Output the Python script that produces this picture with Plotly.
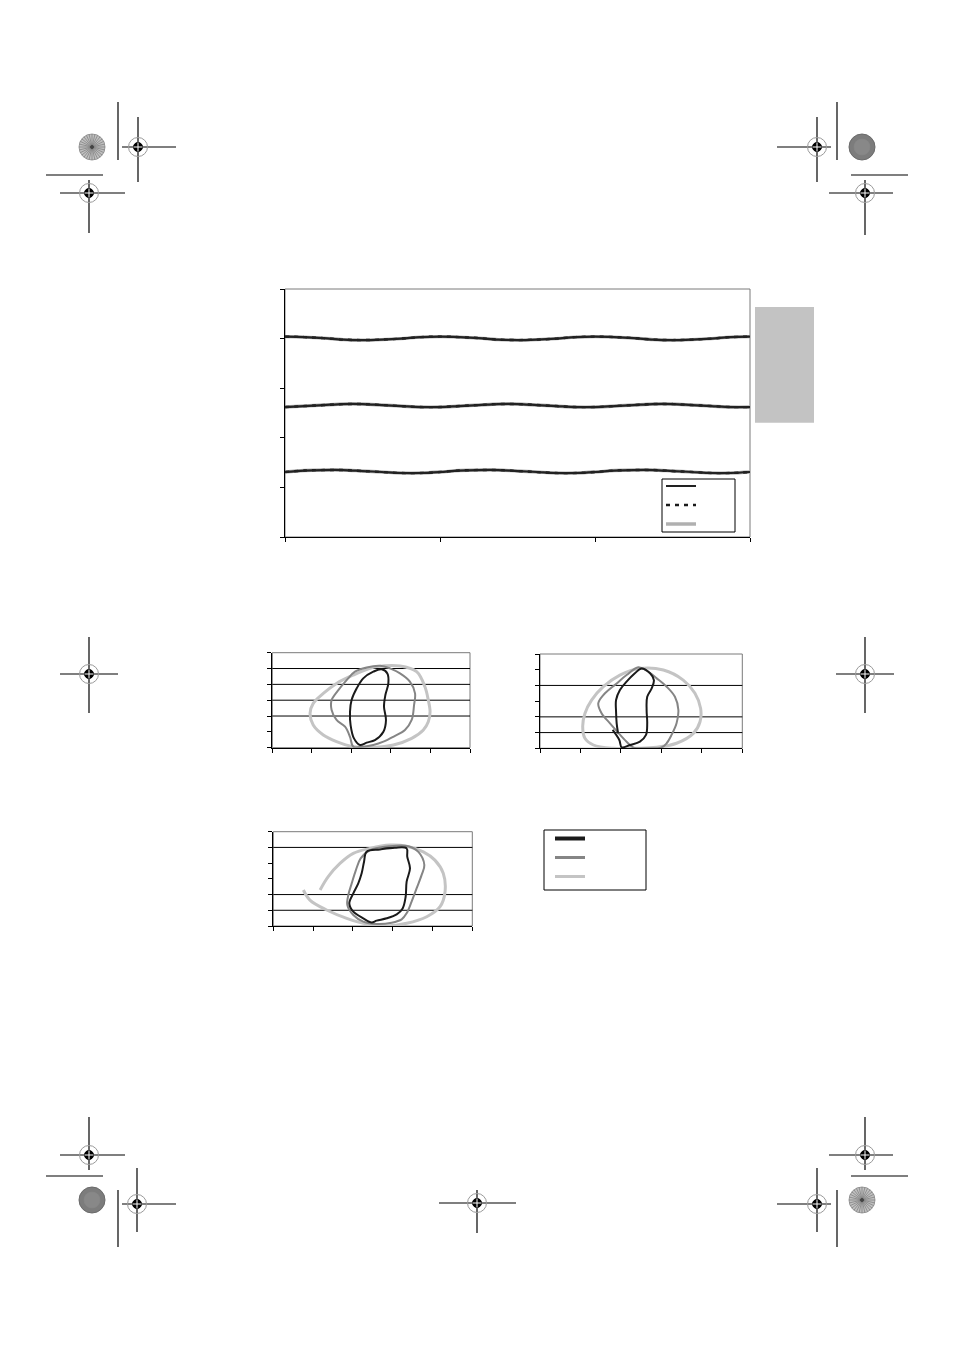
import math
import plotly.graph_objects as go

# page body has an 8px margin; the figure is sized to fit inside the window
OFF = 8
FW, FH = 954 - 2 * OFF, 1350 - 2 * OFF

# ---------------- data: main chart ----------------
angle = [0, 15, 30, 45, 60, 75, 90, 105, 120, 135, 150, 165, 180,
         195, 210, 225, 240, 255, 270, 285, 300, 315, 330, 345, 360]
top_curve = [4.04, 4.03, 4.01, 3.98, 3.97, 3.98, 4.00, 4.03, 4.04, 4.03, 4.01, 3.98, 3.97,
             3.98, 4.00, 4.03, 4.04, 4.03, 4.01, 3.98, 3.97, 3.98, 4.00, 4.03, 4.04]
mid_curve = [2.62, 2.64, 2.66, 2.68, 2.68, 2.66, 2.64, 2.62, 2.62, 2.64, 2.66, 2.68, 2.68,
             2.66, 2.64, 2.62, 2.62, 2.64, 2.66, 2.68, 2.68, 2.66, 2.64, 2.62, 2.62]
bot_curve = [1.31, 1.34, 1.35, 1.35, 1.33, 1.31, 1.29, 1.29, 1.31, 1.34, 1.35, 1.35, 1.33,
             1.31, 1.29, 1.29, 1.31, 1.34, 1.35, 1.35, 1.33, 1.31, 1.29, 1.29, 1.31]
main_x_ticks = [0, 120, 240, 360]
main_y_ticks = [0, 1, 2, 3, 4, 5]

# ---------------- data: small charts ----------------
# chart A
A_light_x = [52.8, 64.6, 73.0, 77.2, 78.9, 79.8, 78.9, 76.4, 70.5, 61.2, 51.1, 41.0, 32.5, 25.8, 20.7, 19.1, 20.7, 25.8, 32.5, 41.0, 49.4, 52.8]
A_light_y = [5.12, 5.16, 4.80, 3.85, 3.01, 2.27, 1.64, 1.12, 0.59, 0.17, 0.02, 0.06, 0.38, 0.80, 1.43, 2.17, 2.80, 3.43, 4.06, 4.59, 5.01, 5.12]
A_mid_x = [41.8, 47.7, 54.5, 59.5, 64.6, 69.6, 72.2, 71.7, 70.5, 67.1, 61.2, 56.2, 51.1, 46.0, 41.0, 39.3, 36.8, 32.5, 30.0, 30.0, 33.4, 37.6, 41.8]
A_mid_y = [4.80, 5.07, 5.18, 5.01, 4.69, 4.17, 3.43, 2.69, 1.75, 1.12, 0.69, 0.38, 0.17, 0.06, 0.06, 0.69, 1.33, 1.75, 2.38, 3.01, 3.64, 4.27, 4.80]
A_dark_x = [51.1, 55.3, 58.2, 58.7, 57.2, 56.5, 57.5, 56.2, 51.9, 47.7, 44.4, 41.3, 39.6, 39.3, 40.1, 42.7, 46.0, 51.1]
A_dark_y = [4.80, 4.95, 4.69, 4.06, 3.33, 2.59, 1.75, 1.01, 0.48, 0.32, 0.17, 0.59, 1.43, 2.27, 3.01, 3.75, 4.38, 4.80]
A_ref_lines = [2, 3, 4, 5]

# chart B
B_light_x = [49.4, 61.0, 70.8, 76.6, 79.4, 79.1, 75.8, 67.5, 57.7, 47.8, 36.2, 26.4, 22.2, 21.1, 22.2, 25.5, 31.3, 39.5, 49.4]
B_light_y = [5.08, 4.98, 4.34, 3.50, 2.54, 1.69, 0.95, 0.32, 0.06, 0.00, 0.00, 0.21, 0.64, 1.38, 2.22, 3.07, 3.92, 4.66, 5.08]
B_mid_x = [48.6, 52.7, 57.7, 62.6, 66.7, 68.4, 67.5, 65.1, 62.6, 60.1, 52.7, 46.1, 42.8, 38.2, 34.6, 30.5, 28.8, 31.3, 37.9, 42.8, 48.6]
B_mid_y = [5.15, 4.94, 4.45, 3.92, 3.28, 2.44, 1.59, 0.87, 0.32, 0.06, 0.00, 0.06, 0.42, 1.06, 1.59, 2.22, 2.86, 3.39, 4.13, 4.66, 5.15]
B_dark_x = [35.9, 39.2, 40.4, 44.5, 49.4, 52.4, 53.0, 52.7, 53.0, 55.2, 56.3, 54.4, 50.2, 46.9, 42.8, 39.5, 37.6, 37.6, 37.9, 38.6]
B_dark_y = [1.17, 0.53, 0.06, 0.21, 0.42, 0.85, 1.59, 2.44, 3.28, 3.81, 4.34, 4.77, 5.08, 4.77, 4.24, 3.71, 3.07, 2.33, 1.59, 0.95]
B_ref_lines = [1, 2, 4]

# chart C
C_light_x = [15.1, 18.4, 26.8, 36.9, 46.9, 57.0, 67.0, 77.1, 83.8, 86.3, 85.4, 81.2, 75.4, 67.0, 58.6, 48.6, 40.2, 33.5, 27.6, 23.5]
C_light_y = [2.29, 1.65, 1.02, 0.49, 0.13, 0.00, 0.17, 0.59, 1.23, 2.18, 3.35, 4.19, 4.72, 5.08, 5.15, 4.94, 4.62, 3.98, 3.14, 2.29]
C_mid_x = [48.6, 58.6, 67.8, 72.9, 75.9, 74.5, 72.0, 69.5, 67.0, 64.5, 59.5, 51.9, 45.2, 40.2, 37.2, 37.7, 39.4, 41.5, 43.9, 48.6]
C_mid_y = [4.83, 5.08, 5.08, 4.72, 3.88, 3.24, 2.39, 1.55, 0.81, 0.42, 0.21, 0.13, 0.28, 0.70, 1.33, 1.97, 2.71, 3.56, 4.30, 4.83]
C_dark_x = [46.9, 53.6, 61.1, 67.0, 67.3, 68.7, 67.0, 66.5, 65.0, 62.0, 57.0, 51.9, 49.4, 45.2, 40.2, 38.2, 40.2, 42.7, 44.4, 45.6, 46.9]
C_dark_y = [4.73, 4.87, 4.98, 4.94, 4.41, 3.67, 2.82, 1.86, 1.12, 0.74, 0.49, 0.34, 0.23, 0.49, 0.91, 1.44, 2.08, 2.71, 3.35, 4.09, 4.73]
C_ref_lines = [1, 2, 5]

small_x_ticks = [0, 20, 40, 60, 80, 100]
small_y_ticks = [0, 1, 2, 3, 4, 5, 6]

BLACK = "#1a1a1a"
DGRAY = "#858585"
LGRAY = "#c4c4c4"

fig = go.Figure()

# ---------------- main chart traces ----------------
def joined(series_list):
    xs, ys = [], []
    for s in series_list:
        xs += angle + [None]
        ys += s + [None]
    return xs, ys

mx, my = joined([top_curve, mid_curve, bot_curve])
fig.add_trace(go.Scatter(x=mx, y=my, mode="lines", line=dict(color="#b0b0b0", width=3.4, shape="spline"),
                         name="\u00a0", legend="legend", legendrank=3, xaxis="x", yaxis="y"))
fig.add_trace(go.Scatter(x=mx, y=my, mode="lines", line=dict(color=BLACK, width=2.4, dash="4px,5px", shape="spline"),
                         name="\u00a0", legend="legend", legendrank=2, xaxis="x", yaxis="y"))
fig.add_trace(go.Scatter(x=mx, y=my, mode="lines", line=dict(color="#222222", width=2.2, shape="spline"),
                         name="\u00a0", legend="legend", legendrank=1, xaxis="x", yaxis="y"))

# ---------------- small chart traces ----------------
small = [
    ("x2", "y2", A_light_x, A_light_y, A_mid_x, A_mid_y, A_dark_x, A_dark_y),
    ("x3", "y3", B_light_x, B_light_y, B_mid_x, B_mid_y, B_dark_x, B_dark_y),
    ("x4", "y4", C_light_x, C_light_y, C_mid_x, C_mid_y, C_dark_x, C_dark_y),
]
for xa, ya, lx, ly, mx_, my_, dx, dy in small:
    fig.add_trace(go.Scatter(x=lx, y=ly, mode="lines", line=dict(color=LGRAY, width=3, shape="spline"),
                             showlegend=False, xaxis=xa, yaxis=ya))
    fig.add_trace(go.Scatter(x=mx_, y=my_, mode="lines", line=dict(color=DGRAY, width=2, shape="spline"),
                             showlegend=False, xaxis=xa, yaxis=ya))
    fig.add_trace(go.Scatter(x=dx, y=dy, mode="lines", line=dict(color=BLACK, width=2, shape="spline"),
                             showlegend=False, xaxis=xa, yaxis=ya))

# legend entries for the small charts
for col, wdt in [(BLACK, 4), (DGRAY, 3), (LGRAY, 3)]:
    fig.add_trace(go.Scatter(x=[None], y=[None], mode="lines", line=dict(color=col, width=wdt),
                             name="\u00a0", legend="legend2", xaxis="x2", yaxis="y2"))

# ---------------- axes ----------------
def px_x(p):
    return (p - OFF) / FW

def px_y(p):
    return 1 - (p - OFF) / FH

def axis(dom, rng, ticks, **kw):
    d = dict(domain=dom, range=rng, tickvals=ticks, showticklabels=False, ticks="outside",
             ticklen=4, tickwidth=1, tickcolor="black", showline=True, linecolor="black",
             linewidth=1, showgrid=False, zeroline=False, fixedrange=True)
    d.update(kw)
    return d

layout = dict(
    width=FW, height=FH, margin=dict(l=0, r=0, t=0, b=0),
    paper_bgcolor="white", plot_bgcolor="white",
    font=dict(family="Liberation Sans, Arial", size=12),
    xaxis=axis([px_x(285), px_x(750)], [0, 360], main_x_ticks, anchor="y"),
    yaxis=axis([px_y(537), px_y(289)], [0, 5], main_y_ticks, anchor="x"),
    xaxis2=axis([px_x(272.3), px_x(470)], [0, 100], small_x_ticks, anchor="y2"),
    yaxis2=axis([px_y(747.7), px_y(652.7)], [0, 6], small_y_ticks, anchor="x2"),
    xaxis3=axis([px_x(540), px_x(742.3)], [0, 100], small_x_ticks, anchor="y3"),
    yaxis3=axis([px_y(748.3), px_y(654)], [0, 6], small_y_ticks, anchor="x3"),
    xaxis4=axis([px_x(273.3), px_x(472.3)], [0, 100], small_x_ticks, anchor="y4"),
    yaxis4=axis([px_y(926), px_y(831.7)], [0, 6], small_y_ticks, anchor="x4"),
    legend=dict(x=px_x(661), y=px_y(471.5), xanchor="left", yanchor="top",
                borderwidth=0, bgcolor="rgba(0,0,0,0)", font=dict(size=11), traceorder="normal"),
    legend2=dict(x=px_x(550), y=px_y(824), xanchor="left", yanchor="top",
                 borderwidth=0, bgcolor="rgba(0,0,0,0)", font=dict(size=12), traceorder="normal"),
    showlegend=True,
)
fig.update_layout(**layout)

shapes = []
# plot-area borders
for xa, ya in [("x", "y"), ("x2", "y2"), ("x3", "y3"), ("x4", "y4")]:
    shapes.append(dict(type="rect", xref=f"{xa} domain", yref=f"{ya} domain", x0=0, x1=1, y0=0, y1=1,
                       line=dict(color="#7a7a7a", width=1), layer="below"))
# horizontal reference lines in small charts
for xa, ya, refs in [("x2", "y2", A_ref_lines), ("x3", "y3", B_ref_lines), ("x4", "y4", C_ref_lines)]:
    for v in refs:
        shapes.append(dict(type="line", xref=f"{xa} domain", yref=ya, x0=0, x1=1, y0=v, y1=v,
                           line=dict(color="black", width=1), layer="below"))

# legend frames
def prect(x0, y0, x1, y1, fill="rgba(0,0,0,0)", line="black", lw=1, layer="above"):
    shapes.append(dict(type="rect", xref="paper", yref="paper", x0=px_x(x0), x1=px_x(x1),
                       y0=px_y(y1), y1=px_y(y0), fillcolor=fill,
                       line=dict(color=line, width=lw), layer=layer))

prect(662, 479, 735, 532, fill="white", layer="above")
prect(544, 830, 646, 890, fill="white", layer="above")

# ---------------- page decorations (printer marks) ----------------
def pline(x0, y0, x1, y1, color="black", width=1.2):
    shapes.append(dict(type="line", xref="paper", yref="paper", x0=px_x(x0), y0=px_y(y0),
                       x1=px_x(x1), y1=px_y(y1), line=dict(color=color, width=width)))

def pcircle(cx, cy, r, fill=None, line="black", lw=1):
    shapes.append(dict(type="circle", xref="paper", yref="paper", x0=px_x(cx - r), x1=px_x(cx + r),
                       y0=px_y(cy + r), y1=px_y(cy - r), fillcolor=fill if fill else "rgba(0,0,0,0)",
                       line=dict(color=line, width=lw)))

def crosshair(cx, cy, hx, vy):
    pline(hx[0], cy, hx[1], cy)
    pline(cx, vy[0], cx, vy[1])
    pcircle(cx, cy, 9.5, None, "#9a9a9a", 1)
    pcircle(cx, cy, 4.5, "black", "black", 1)
    pline(cx - 4.5, cy, cx + 4.5, cy, "white", 1)
    pline(cx, cy - 4.5, cx, cy + 4.5, "white", 1)

crosshair(138, 147, (122, 176), (117, 182))
crosshair(89, 193, (60, 125), (180, 233))
crosshair(817, 147, (777, 831), (117, 182))
crosshair(865, 193, (829, 893), (180, 235))
crosshair(89, 674, (60, 118), (637, 713))
crosshair(865, 674, (836, 894), (637, 713))
crosshair(89, 1155, (60, 125), (1117, 1170))
crosshair(137, 1204, (122, 176), (1168, 1232))
crosshair(477, 1203, (439, 516), (1190, 1233))
crosshair(865, 1155, (829, 893), (1117, 1170))
crosshair(817, 1204, (777, 831), (1168, 1232))

pline(118, 102, 118, 160)
pline(46, 175, 103, 175)
pline(837, 102, 837, 160)
pline(851, 175, 908, 175)
pline(46, 1176, 103, 1176)
pline(118, 1190, 118, 1247)
pline(851, 1176, 908, 1176)
pline(837, 1190, 837, 1247)

# star targets
def star(cx, cy):
    pcircle(cx, cy, 13, "#c0c0c0", "#9a9a9a", 1)
    for k in range(28):
        a = k * math.pi / 14
        pline(cx, cy, cx + 13 * math.cos(a), cy + 13 * math.sin(a), "#7a7a7a", 0.7)
    pcircle(cx, cy, 1.5, "#444444", "#444444", 1)

def textured(cx, cy):
    pcircle(cx, cy, 13, "#7c7c7c", "#6a6a6a", 1)
    pcircle(cx, cy, 8, "#888888", "#888888", 0.5)

star(92, 147)
textured(862, 147)
textured(92, 1200)
star(862, 1200)

# gray side tab
prect(755, 307, 814, 422.7, fill="#c3c3c3", line="rgba(0,0,0,0)", lw=0)

fig.update_layout(shapes=shapes)
fig.write_html("out.html")
